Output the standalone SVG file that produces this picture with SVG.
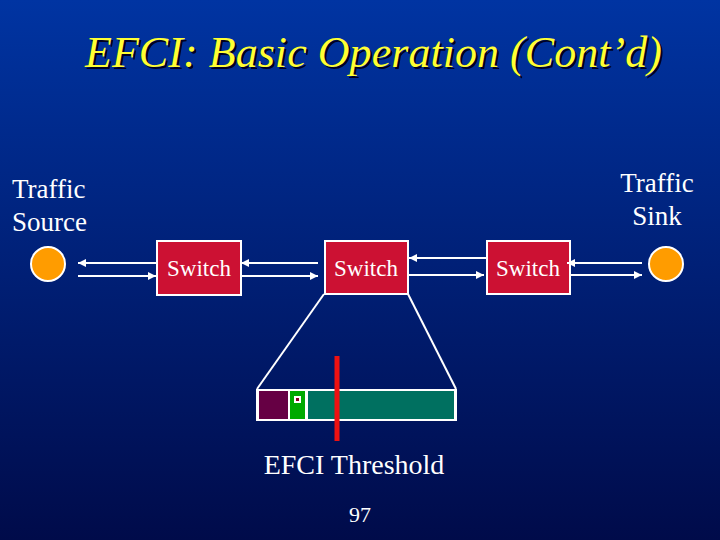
<svg xmlns="http://www.w3.org/2000/svg" width="720" height="540" viewBox="0 0 720 540">
<defs>
<linearGradient id="bg" x1="0" y1="0" x2="0" y2="1">
<stop offset="0" stop-color="#0034a2"/>
<stop offset="1" stop-color="#000b4a"/>
</linearGradient>
<marker id="ah" viewBox="0 0 10 10" refX="10" refY="5" markerWidth="4.5" markerHeight="4" orient="auto" markerUnits="strokeWidth">
<path d="M0,0 L10,5 L0,10 z" fill="#ffffff"/>
</marker>
<filter id="sh" x="-5%" y="-20%" width="110%" height="140%">
<feOffset dx="2" dy="2"/>
</filter>
</defs>
<style>
.lbl{font-family:"Liberation Serif","Times New Roman",serif;fill:#ffffff}
.ttl{font-family:"Liberation Serif","Times New Roman",serif;font-style:italic;font-size:44px}
.sw{fill:#cc1133;stroke:#ffffff;stroke-width:2}
.node{fill:#ff9c00;stroke:#ffffff;stroke-width:2}
.cn{stroke:#ffffff;stroke-width:2;fill:none}
.ar{marker-end:url(#ah)}
</style>
<rect x="0" y="0" width="720" height="540" fill="url(#bg)"/>
<g id="title">
<text class="ttl" x="85" y="67" fill="#000022" filter="url(#sh)" textLength="577">EFCI: Basic Operation (Cont’d)</text>
<text class="ttl" x="85" y="67" fill="#ffff33" textLength="577">EFCI: Basic Operation (Cont’d)</text>
</g>
<g id="source">
<circle class="node" cx="48" cy="264" r="17"/>
<text class="lbl" x="12" y="198" font-size="27">Traffic</text>
<text class="lbl" x="12" y="231" font-size="27">Source</text>
</g>
<g id="sink">
<circle class="node" cx="666" cy="264" r="17"/>
<text class="lbl" x="657" y="192" font-size="27" text-anchor="middle">Traffic</text>
<text class="lbl" x="657" y="225" font-size="27" text-anchor="middle">Sink</text>
</g>
<g id="switch1">
<rect class="sw" x="157" y="241" width="84" height="54"/>
<text class="lbl" x="199" y="276" font-size="23" text-anchor="middle">Switch</text>
</g>
<g id="switch2">
<rect class="sw" x="325" y="241" width="83" height="53"/>
<text class="lbl" x="366" y="276" font-size="23" text-anchor="middle">Switch</text>
</g>
<g id="switch3">
<rect class="sw" x="487" y="241" width="83" height="53"/>
<text class="lbl" x="528" y="276" font-size="23" text-anchor="middle">Switch</text>
</g>
<g id="connectors">
<line class="cn ar" x1="157" y1="263" x2="78" y2="263"/>
<line class="cn ar" x1="78" y1="276" x2="156" y2="276"/>
<line class="cn ar" x1="318" y1="263" x2="241" y2="263"/>
<line class="cn ar" x1="241" y1="276" x2="318" y2="276"/>
<line class="cn ar" x1="487" y1="258" x2="409" y2="258"/>
<line class="cn ar" x1="408" y1="275" x2="484" y2="275"/>
<line class="cn ar" x1="642" y1="263" x2="567" y2="263"/>
<line class="cn ar" x1="571" y1="275" x2="642" y2="275"/>
<line class="cn" x1="324" y1="294" x2="257" y2="389"/>
<line class="cn" x1="408" y1="294" x2="456" y2="389"/>
</g>
<g id="buffer">
<rect x="256" y="389" width="201" height="32" fill="#ffffff"/>
<rect x="259" y="391" width="29" height="28" fill="#660044"/>
<rect x="290" y="391" width="15" height="28" fill="#00aa00"/>
<rect x="308" y="391" width="146" height="28" fill="#007060"/>
<rect x="294" y="396" width="7" height="7" fill="#ffffff"/>
<rect x="296" y="398" width="3" height="3" fill="#880022"/>
</g>
<g id="threshold">
<rect x="334.5" y="356" width="5" height="85" fill="#ee1111"/>
<text class="lbl" x="354" y="474" font-size="28" text-anchor="middle">EFCI Threshold</text>
</g>
<text class="lbl" x="360" y="522" font-size="22" text-anchor="middle">97</text>
</svg>
